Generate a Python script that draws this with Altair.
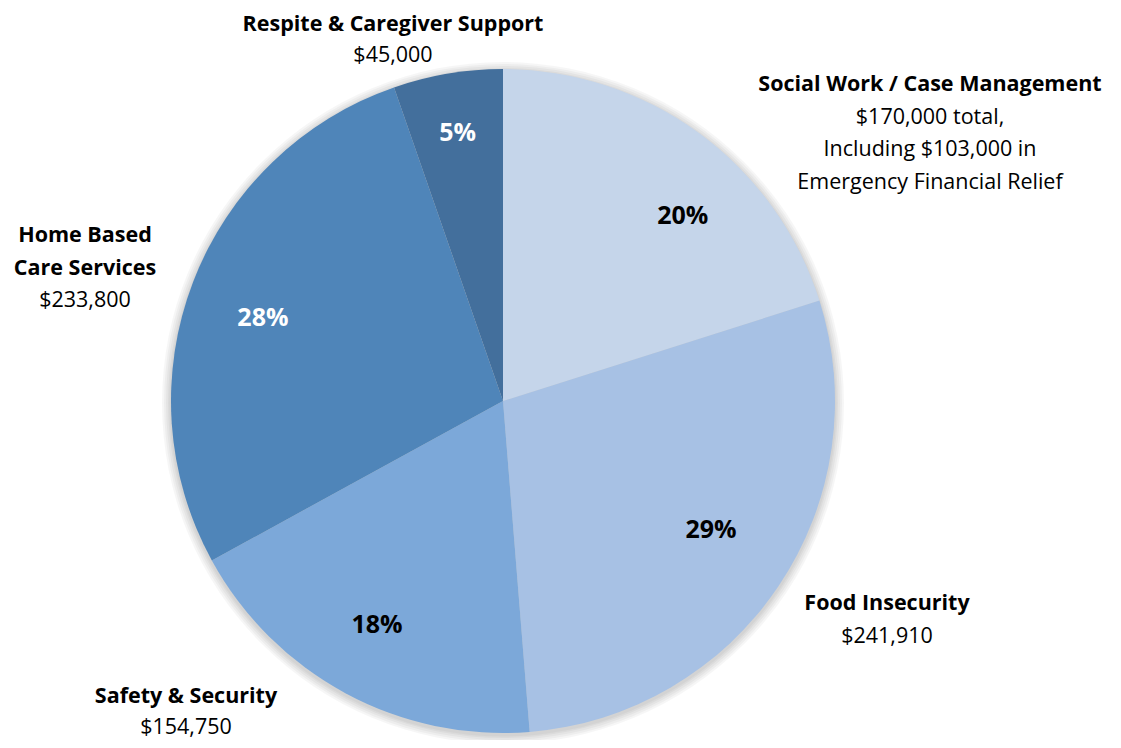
import math
import altair as alt
import pandas as pd

# ---- data ----
categories = [
    "Social Work / Case Management",
    "Food Insecurity",
    "Safety & Security",
    "Home Based Care Services",
    "Respite & Caregiver Support",
]
values = [170000, 241910, 154750, 233800, 45000]
title_lines = [
    ["Social Work / Case Management"],
    ["Food Insecurity"],
    ["Safety & Security"],
    ["Home Based", "Care Services"],
    ["Respite & Caregiver Support"],
]
detail_lines = [
    ["$170,000 total,", "Including $103,000 in", "Emergency Financial Relief"],
    ["$241,910"],
    ["$154,750"],
    ["$233,800"],
    ["$45,000"],
]

# ---- style / layout ----
colors = ["#C5D5EA", "#A7C1E4", "#7CA8D9", "#4F85B9", "#436F9C"]
pct_colors = ["black", "black", "black", "white", "white"]
FONT = "Open Sans"
LAB_SIZE = 21.5
PCT_SIZE = 25
W, H = 1105, 732
CX, CY = 495, 393          # pie centre (chart coords)
R = 332
# outer label anchor (centre of first line), chart coords
label_anchor = [(922, 77), (879, 596), (178, 689), (77, 228), (385, 17)]
LINE_H = [32.5, 32.5, 31, 32.5, 31]
# percent label radius / angular tweak (degrees)
pct_radius = [258, 245, 257, 254, 272]
pct_angle_shift = [8, -2, 1, -2, 0]
shadow_radii = [R + 9, R + 7, R + 5, R + 3, R + 1.5]

total = sum(values)
pie_df = pd.DataFrame({"cat": categories, "value": values, "order": range(len(values))})

rows = []
cum = 0
for i, v in enumerate(values):
    mid = (cum + v / 2) / total * 360 + pct_angle_shift[i]
    cum += v
    a = math.radians(mid)
    rows.append({
        "cat": categories[i],
        "pct": f"{round(v / total * 100)}%",
        "x": CX + pct_radius[i] * math.sin(a),
        "y": CY - pct_radius[i] * math.cos(a),
        "tc": pct_colors[i],
    })
pct_df = pd.DataFrame(rows)

lab_rows = []
for i in range(len(categories)):
    ax, ay = label_anchor[i]
    k = 0
    for t in title_lines[i]:
        lab_rows.append({"t": t, "x": ax, "y": ay + k * LINE_H[i], "bold": "b"})
        k += 1
    for t in detail_lines[i]:
        lab_rows.append({"t": t, "x": ax, "y": ay + k * LINE_H[i], "bold": "n"})
        k += 1
lab_df = pd.DataFrame(lab_rows)

one = pd.DataFrame({"a": [1]})
shadows = [
    alt.Chart(one).mark_arc(color="black", opacity=0.035, outerRadius=r, innerRadius=0).encode(
        theta=alt.value(2 * math.pi),
        x=alt.value(CX),
        y=alt.value(CY + 2),
    )
    for r in shadow_radii
]

pie = alt.Chart(pie_df).mark_arc(outerRadius=R).encode(
    theta=alt.Theta("value:Q", stack=True),
    order=alt.Order("order:Q"),
    color=alt.Color("cat:N", scale=alt.Scale(domain=categories, range=colors), legend=None),
    x=alt.value(CX),
    y=alt.value(CY),
)

pct = alt.Chart(pct_df).mark_text(font=FONT, fontSize=PCT_SIZE, fontWeight="bold", align="center", baseline="middle").encode(
    x=alt.X("x:Q", scale=None),
    y=alt.Y("y:Q", scale=None),
    text="pct:N",
    color=alt.Color("tc:N", scale=None),
)

lab_b = alt.Chart(lab_df[lab_df.bold == "b"]).mark_text(font=FONT, fontSize=LAB_SIZE, fontWeight="bold", align="center", baseline="middle", color="black").encode(
    x=alt.X("x:Q", scale=None), y=alt.Y("y:Q", scale=None), text="t:N")
lab_n = alt.Chart(lab_df[lab_df.bold == "n"]).mark_text(font=FONT, fontSize=LAB_SIZE, align="center", baseline="middle", color="black").encode(
    x=alt.X("x:Q", scale=None), y=alt.Y("y:Q", scale=None), text="t:N")

chart = alt.layer(*shadows, pie, pct, lab_b, lab_n).properties(
    width=W, height=H, padding=0, autosize="none", background="white"
).configure_view(stroke=None, fill="white")

chart.save("out.html", embed_options={"renderer": "svg", "actions": False})
